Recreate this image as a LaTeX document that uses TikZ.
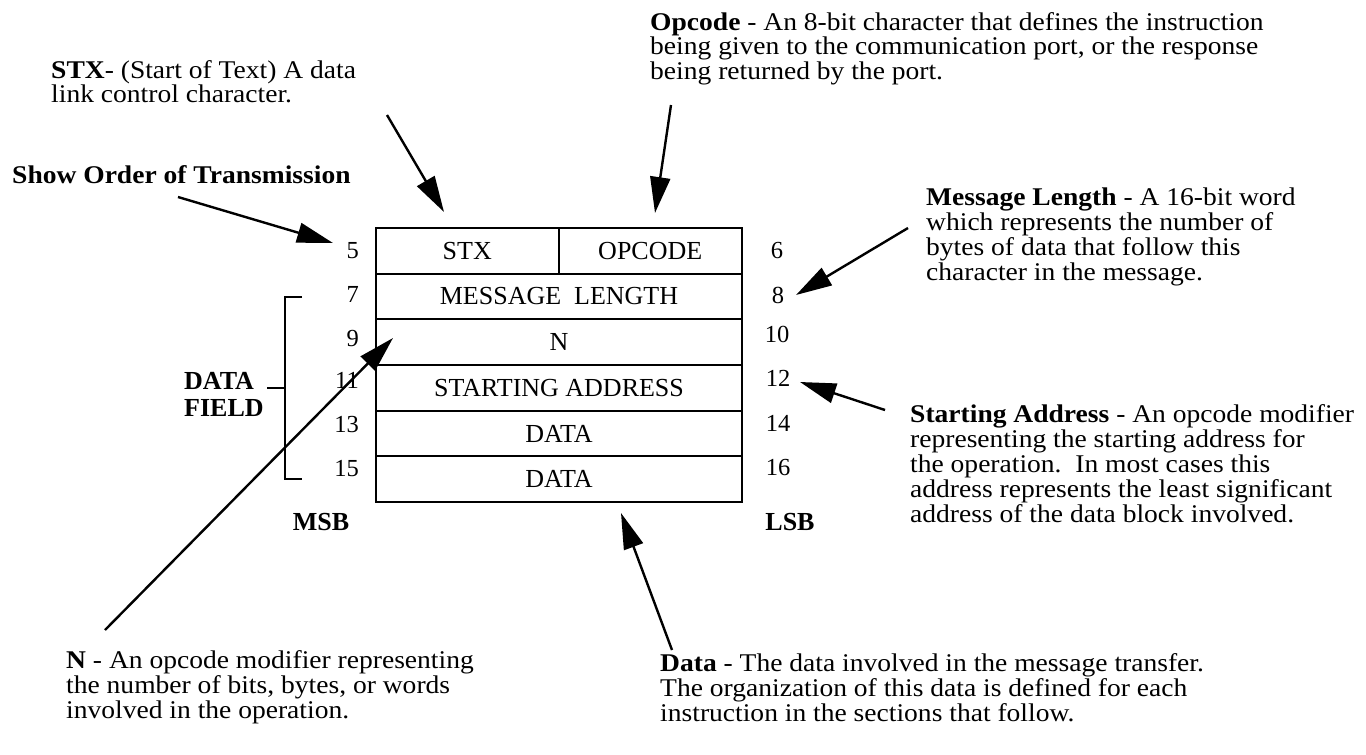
\documentclass[tikz,border=0pt]{standalone}
\usepackage{fontspec}
\setmainfont[FakeStretch=1.08]{Liberation Serif}
\newfontfamily\plainserif{Liberation Serif}
\usetikzlibrary{arrows.meta}
\newcommand\tlines[1]{\begin{tabular}[t]{@{}l@{}}#1\end{tabular}}
\begin{document}
\begin{tikzpicture}[x=1pt,y=-1pt,
  txt/.style={anchor=base west, inner sep=0pt, font=\fontsize{25.5}{24}\selectfont},
  cellt/.style={font=\plainserif\fontsize{26}{26}\selectfont},
  numl/.style={anchor=base east, inner sep=0pt, font=\plainserif\fontsize{24.5}{26}\selectfont},
  numr/.style={anchor=base, inner sep=0pt, font=\plainserif\fontsize{24.5}{26}\selectfont},
  lbl/.style={inner sep=0pt, font=\plainserif\bfseries\fontsize{26}{30}\selectfont},
  arr/.style={line width=2.4pt, -{Triangle[length=36pt,width=20pt]}},
  row/.style={draw, line width=2pt, minimum width=366pt, minimum height=45.7pt, inner sep=0pt, cellt},
  brk/.style={line width=2pt}
]
\useasboundingbox[fill=white] (0,0) rectangle (1366,755);

% table
\node[row, minimum width=182.5pt] (stx) at (467.25,250.8) {STX};
\node[row, minimum width=183.5pt] (opc) at (650.25,250.8) {OPCODE};
\node[row] (len) at (559,296.5) {MESSAGE\ \ LENGTH};
\node[row] (n) at (559,342.2) {N};
\node[row] (sa) at (559,387.8) {STARTING ADDRESS};
\node[row] (d1) at (559,433.5) {DATA};
\node[row] (d2) at (559,479.2) {DATA};

% numbers
\node[numl] (n5) at (359,258) {5};
\node[numl] (n7) at (359,302) {7};
\node[numl] (n9) at (359,346) {9};
\node[numl] (n11) at (359,388) {11};
\node[numl] (n13) at (359,432) {13};
\node[numl] (n15) at (359,476) {15};
\node[numr] (n6) at (777,258) {6};
\node[numr] (n8) at (778,303) {8};
\node[numr] (n10) at (777,342) {10};
\node[numr] (n12) at (778,386) {12};
\node[numr] (n14) at (778,431) {14};
\node[numr] (n16) at (778,475) {16};

% MSB / LSB
\node[lbl] (msb) at (321,522) {MSB};
\node[lbl] (lsb) at (790,522) {LSB};

% data field bracket
\node[lbl, anchor=base west] (df) at (184,389) {\tlines{DATA\\[-3pt]FIELD}};
\coordinate (bt) at (302,297);
\coordinate (bb) at (302,479);
\coordinate (bm) at (267,388);
\draw[brk] (bt) -- (285,297) -- (285,479) -- (bb);
\draw[brk] (bm) -- (285,388);

% text blocks
\node[txt] (tshow) at (12,183) {\textbf{Show Order of Transmission}};
\node[txt] (tstx) at (51,78) {\tlines{\textbf{STX}- (Start of Text) A data\\link control character.}};
\node[txt] (topc) at (650,30) {\tlines{\textbf{Opcode} - An 8-bit character that defines the instruction\\being given to the communication port, or the response\\being returned by the port.}};
\node[txt] (tlen) at (926,205) {\tlines{\textbf{Message Length} - A 16-bit word\\which represents the number of\\bytes of data that follow this\\character in the message.}};
\node[txt] (tsa) at (910,422) {\tlines{\textbf{Starting Address} - An opcode modifier\\representing the starting address for\\the operation.\ \ In most cases this\\address represents the least significant\\address of the data block involved.}};
\node[txt] (tn) at (66,668) {\tlines{\textbf{N} - An opcode modifier representing\\the number of bits, bytes, or words\\involved in the operation.}};
\node[txt] (tdata) at (660,671) {\tlines{\textbf{Data} - The data involved in the message transfer.\\The organization of this data is defined for each\\instruction in the sections that follow.}};

% arrows
\coordinate (a1s) at (178,197); \coordinate (a1e) at (333,243);
\coordinate (a2s) at (387,115); \coordinate (a2e) at (444,212);
\coordinate (a3s) at (671,105); \coordinate (a3e) at (655,213);
\coordinate (a4s) at (908,228); \coordinate (a4e) at (796,295);
\coordinate (a5s) at (885,410); \coordinate (a5e) at (800,382);
\coordinate (a6s) at (105,630); \coordinate (a6e) at (393,338);
\coordinate (a7s) at (672,650); \coordinate (a7e) at (621,513);
\draw[arr] (a1s) -- (a1e);
\draw[arr] (a2s) -- (a2e);
\draw[arr] (a3s) -- (a3e);
\draw[arr] (a4s) -- (a4e);
\draw[arr] (a5s) -- (a5e);
\draw[arr] (a6s) -- (a6e);
\draw[arr] (a7s) -- (a7e);
\end{tikzpicture}
\end{document}
